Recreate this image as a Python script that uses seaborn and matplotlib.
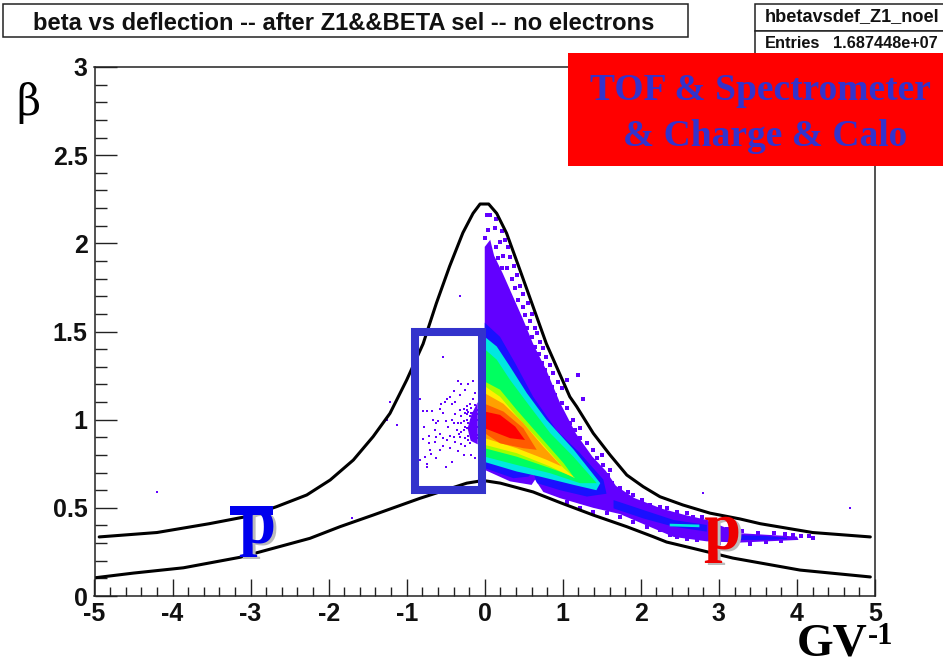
import pandas as pd
import seaborn as sns
import matplotlib
matplotlib.use('Agg')
import matplotlib.pyplot as plt
from matplotlib.patches import Rectangle
from matplotlib.ticker import MultipleLocator

# limit curves
upper_x = [-4.94,-4.2,-3.53,-3.0,-2.665,-2.28,-1.98,-1.684,-1.43,-1.214,-1.0,-.79,-.62,-.45,-.28,-.15,-.06,.05,.153,.28,.45,.62,.79,.96,1.09,1.178,1.39,1.605,1.82,2.03,2.245,2.54,2.885,3.27,3.53,4.2,4.94]
upper_beta = [.335,.36,.41,.455,.507,.573,.658,.771,.904,1.036,1.225,1.43,1.66,1.87,2.06,2.17,2.223,2.223,2.17,2.057,1.85,1.64,1.43,1.26,1.13,1.074,.923,.80,.686,.62,.563,.516,.47,.437,.41,.36,.335]
lower_x = [-5,-4.5,-3.86,-3.13,-2.24,-1.855,-1.43,-.83,-.23,-.02,.2,.62,.964,1.39,1.82,2.16,2.33,2.67,3.18,4.04,4.94]
lower_beta = [.103,.13,.16,.22,.327,.393,.459,.554,.64,.655,.64,.59,.53,.459,.393,.336,.306,.27,.215,.147,.108]

# density bands, outermost first
band_colors = ['#6200ff','#1a10ff','#00e8e0','#00ff60','#a0ff00','#ffee00','#ffa000','#ff5a00','#ff0000']
purple_x = [0,.07,.12,.23,.36,.49,.62,.79,.96,1.17,1.38,1.55,1.68,1.92,2.27,2.56,2.86,2.9,3.27,4.0,4.02,3.27,2.845,2.42,2.075,1.73,1.39,.964,.75,.645,.60,.325,0]
purple_beta = [1.98,2.02,1.93,1.83,1.70,1.57,1.43,1.28,1.10,.92,.79,.71,.625,.555,.495,.46,.43,.42,.356,.337,.318,.303,.31,.335,.40,.465,.50,.555,.59,.66,.63,.65,.715]
blue_x = [0,.196,.39,.62,.92,1.22,1.52,1.56,1.31,.965,.67,.62,.56,.367,0]
blue_beta = [1.55,1.47,1.32,1.13,.94,.81,.66,.58,.564,.60,.64,.70,.677,.668,.725]
cyan_x = [0,.154,.325,.54,.79,1.14,1.48,1.43,1.14,.71,.41,0]
cyan_beta = [1.47,1.415,1.30,1.15,1.0,.83,.64,.60,.63,.677,.706,.76]
green_x = [0,.154,.325,.58,.84,1.136,1.435,1.22,.84,.41,0]
green_beta = [1.40,1.34,1.225,1.074,.923,.79,.64,.64,.696,.743,.79]
lime_x = [0,.196,.41,.71,1.01,1.136,.84,.41,0]
lime_beta = [1.216,1.17,1.055,.904,.753,.677,.725,.79,.838]
yellow_x = [0,.196,.41,.71,1.01,1.158,.84,.41,0]
yellow_beta = [1.19,1.13,1.02,.876,.725,.668,.734,.81,.857]
orange_x = [0,.24,.495,.75,.987,.794,.41,0]
orange_beta = [1.15,1.09,.98,.847,.734,.772,.838,.895]
dorange_x = [0,.24,.495,.666,.495,.196,0]
dorange_beta = [1.09,1.046,.951,.829,.838,.866,.923]
red_x = [0,.196,.39,.516,.325,0]
red_beta = [1.046,1.027,.961,.885,.895,.951]

tail_blue_x = [1.65,2.03,2.42,2.845,2.845,2.42,2.03,1.65]
tail_blue_beta = [.544,.488,.431,.403,.365,.393,.44,.497]
tail_cyan_x = [2.37,2.75,2.75,2.37]
tail_cyan_beta = [.41,.405,.39,.395]
peak_blue_x = [3.27,3.6,3.87,3.87,3.6,3.27]
peak_blue_beta = [.345,.34,.33,.322,.318,.318]

# dense part of the antiproton cluster
core_x = [-.09,-.17,-.22,-.18,-.09]
core_beta = [1.1,1.03,.95,.88,.86]

# single events
edge_x = [.025,.067,.15,.046,.13,.22,0,.195,.26,.30,.15,.24,.32,.175,.37,.28,.41,.22,.345,.45,.39,.495,.43,.56,.495,.60,.52,.58,.64,.54,.665,.60,.71,.64,.75,.69,.79,.73,.84,.77,.88,.815,.94,.86,.99,.90,1.05,1.2,
          .985,1.05,1.26,1.135,1.22,1.09,1.156,1.306,1.22,1.39,1.434,1.5,1.52,1.605,1.58,1.626,1.73,1.69,1.84,1.90,1.86,2.01,2.12,2.25,2.33,2.46,2.59,2.67,2.78,2.865,
          1.05,1.22,1.39,1.56,1.73,1.9,2.075,2.25,2.37,2.46,2.59,2.715,
          3.3,3.5,3.7,3.85,3.95,4.05,4.15,4.2,3.4,3.6,3.8,3.0,3.1]
edge_beta = [2.16,2.16,2.14,2.076,2.085,2.07,2.03,2.01,2.02,1.98,1.98,1.93,1.925,1.915,1.87,1.86,1.82,1.86,1.80,1.76,1.745,1.71,1.68,1.66,1.64,1.60,1.595,1.56,1.52,1.52,1.49,1.47,1.44,1.41,1.405,1.375,1.355,1.32,1.31,1.28,1.263,1.235,1.216,1.187,1.178,1.14,1.225,1.254,
             1.093,1.064,1.12,1.0,.951,.98,.94,.866,.894,.828,.781,.80,.743,.715,.686,.639,.61,.582,.592,.573,.544,.544,.516,.507,.497,.478,.469,.45,.45,.431,
             .535,.497,.478,.469,.45,.422,.393,.374,.346,.333,.321,.318,
             .37,.36,.355,.35,.345,.34,.34,.33,.295,.305,.31,.30,.38]
stray_x = [2.8,4.68,-4.2,-1.7,-1.25,-1.22,-1.13,-.32,-.54]
stray_beta = [.586,.5,.59,.44,1.0,1.1,.97,1.70,1.355]
cluster_x = [-.83,-.79,-.74,-.68,-.66,-.78,-.89,-.79,-.72,-.71,-.64,-.62,-.60,-.57,-.56,-.51,-.49,-.45,-.40,-.34,-.30,-.25,-.21,-.15,-.32,-.38,-.42,-.53,-.50,-.47,-.42,-.38,-.40,-.57,-.62,-.64,-.53,-.49,-.45,-.40,-.36,-.38,-.32,-.34,-.30,-.25,-.27,-.23,-.19,-.15,-.125,-.23,-.19,-.15,-.10,-.27,-.23,-.19,-.15,-.10,-.25,-.21,-.17,-.125,-.10,-.30,-.25,-.19,-.15,-.10,-.70,-.69,-.57,-.53,-.45,-.34,-.27,-.17,-.125,-.74,-.83,-.77,-.62,-.42,-.50,-.74,-.23,-.17,-.125,-.21,-.17,-.30,-.32,-.27,-.33,-.21,-.125,-.23,-.18,-.15,-.10,-.21,-.25,-.30,-.17,-.125,-.19,-.10]
cluster_beta = [1.12,1.05,1.05,1.05,1.0,.96,.80,.89,.91,.87,.94,.98,.99,1.06,1.09,1.10,1.12,1.13,1.16,1.22,1.20,1.17,1.20,1.22,1.14,1.10,1.09,1.04,.99,.96,1.0,1.03,.98,.92,.90,.875,.895,.885,.91,.90,.94,.875,.90,.98,1.02,1.04,1.06,1.08,1.09,1.12,1.15,1.0,1.02,1.04,1.055,.94,.95,.96,.98,1.0,.895,.91,.92,.93,.96,.86,.85,.865,.885,.895,.83,.805,.83,.85,.84,.82,.80,.80,.78,.75,.77,.79,.78,.76,.73,.73,1.055,1.065,1.085,.98,1.0,.98,1.055,.99,.92,.885,1.02,1.03,.945,.95,1.03,1.045,.96,.93,1.035,.99,.93,.915]

tick_x = [-5,-4,-3,-2,-1,0,1,2,3,4,5]
tick_beta = [0,.5,1,1.5,2,2.5,3]
tick_beta_labels = ['0','0.5','1','1.5','2','2.5','3']

W, H = 943, 658
ink = '#222222'
box_blue = '#3333cc'

sns.set_style('white')
plt.rcParams['font.family'] = ['Liberation Sans', 'DejaVu Sans']

fig = plt.figure(figsize=(W/100, H/100), dpi=100)
ax = fig.add_axes([94.5/W, 1-596/H, (875-94.5)/W, (596-67)/H])

bands = [(purple_x,purple_beta),(blue_x,blue_beta),(cyan_x,cyan_beta),(green_x,green_beta),(lime_x,lime_beta),(yellow_x,yellow_beta),(orange_x,orange_beta),(dorange_x,dorange_beta),(red_x,red_beta)]
ax.fill(purple_x, purple_beta, color=band_colors[0], lw=0)
ax.fill(core_x, core_beta, color=band_colors[0], lw=0)
ax.fill(tail_blue_x, tail_blue_beta, color=band_colors[1], lw=0)
ax.fill(peak_blue_x, peak_blue_beta, color=band_colors[1], lw=0)
ax.fill(tail_cyan_x, tail_cyan_beta, color=band_colors[2], lw=0)
for (bx, by), c in list(zip(bands, band_colors))[1:]:
    ax.fill(bx, by, color=c, lw=0)

sns.scatterplot(x=edge_x, y=edge_beta, ax=ax, color=band_colors[0], marker='s', s=5, linewidth=0)
sns.scatterplot(x=cluster_x, y=cluster_beta, ax=ax, color=band_colors[0], marker='s', s=3.5, linewidth=0)
sns.scatterplot(x=stray_x, y=stray_beta, ax=ax, color=band_colors[0], marker='s', s=2, linewidth=0)

curves = pd.concat([pd.DataFrame({'x': upper_x, 'beta': upper_beta, 'curve': 'upper'}),
                    pd.DataFrame({'x': lower_x, 'beta': lower_beta, 'curve': 'lower'})])
sns.lineplot(data=curves, x='x', y='beta', units='curve', estimator=None, sort=False,
             color='black', lw=2.2, ax=ax)

# selection box
ax.add_patch(Rectangle((-.89, .60), .855, .90, fill=False, ec=box_blue, lw=5.8, joinstyle='miter', zorder=5))

ax.set_xlim(-5, 5)
ax.set_ylim(0, 3)
ax.set_xlabel('')
ax.set_ylabel('')
ax.set_xticks(tick_x)
ax.set_xticklabels([str(t) for t in tick_x], fontsize=18, fontweight='bold', color='#111111')
ax.set_yticks(tick_beta)
ax.set_yticklabels(tick_beta_labels, fontsize=18, fontweight='bold', color='#111111')
ax.xaxis.set_minor_locator(MultipleLocator(.2))
ax.yaxis.set_minor_locator(MultipleLocator(.1))
ax.tick_params(axis='x', which='major', direction='in', length=12, width=1, color=ink, pad=4, bottom=True)
ax.tick_params(axis='x', which='minor', direction='in', length=6.5, width=1, color=ink, bottom=True)
ax.tick_params(axis='y', which='major', direction='in', length=16, width=1, color=ink, pad=5, left=True)
ax.tick_params(axis='y', which='minor', direction='in', length=8.5, width=1, color=ink, left=True)
for s in ax.spines.values():
    s.set_color(ink)
    s.set_linewidth(1.1)

def box(x0, y0, x1, y1, fc='white', ec=ink, lw=1.1, z=10):
    fig.add_artist(Rectangle((x0/W, 1-y1/H), (x1-x0)/W, (y1-y0)/H, transform=fig.transFigure,
                             fc=fc, ec=ec, lw=lw, zorder=z))

def label(x, y, s, z=12, **kw):
    fig.text(x/W, 1-y/H, s, zorder=z, **kw)

# title and stats boxes
box(3, 4, 688, 37)
label(344, 24, 'beta vs deflection -- after Z1&&BETA sel -- no electrons', ha='center', va='center',
      fontsize=17.1, fontweight='bold', color='#111111')
box(755, 4, 950, 31)
box(755, 31, 950, 56)
label(765, 17, 'hbetavsdef_Z1_noel', ha='left', va='center', fontsize=13.1, fontweight='bold', color='#111111')
label(765, 44, 'Entries', ha='left', va='center', fontsize=11.8, fontweight='bold', color='#111111')
label(938, 44, '1.687448e+07', ha='right', va='center', fontsize=11.7, fontweight='bold', color='#111111')

# red banner
box(568, 53, 945, 166, fc='#ff0000', ec='#ff0000', lw=0, z=14)
label(760, 91, 'TOF & Spectrometer', z=15, ha='center', va='center', fontsize=27, fontweight='bold',
      family='Liberation Serif', color=box_blue)
label(765, 137, '& Charge & Calo', z=15, ha='center', va='center', fontsize=27, fontweight='bold',
      family='Liberation Serif', color=box_blue)

# hand labels
serif = dict(family='Liberation Serif', fontweight='bold', ha='center', va='baseline')
label(28, 103, 'β', family='DejaVu Serif', fontsize=30, ha='center', va='center', color='black')
label(832, 656, 'GV', fontsize=34, color='black', **serif)
label(881, 644, '-1', fontsize=22, color='black', **serif)
label(260, 545, 'p', fontsize=48, color='#bbbbbb', **serif)
label(257, 543, 'p', fontsize=48, color='#0000ee', **serif)
box(230, 506, 273, 515, fc='#0000ee', ec='#0000ee', lw=0, z=13)
label(725, 551, 'p', fontsize=48, color='#bbbbbb', **serif)
label(722, 549, 'p', fontsize=48, color='#ee0000', **serif)

fig.savefig('out.png', dpi=100)
